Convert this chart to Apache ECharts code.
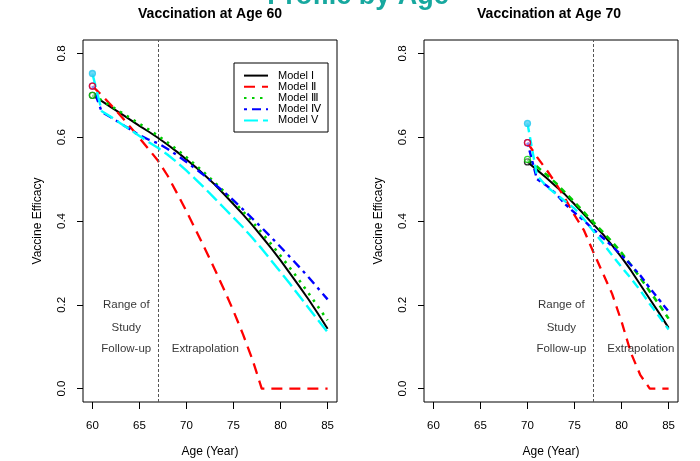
<!DOCTYPE html>
<html><head><meta charset="utf-8">
<script src="https://cdn.jsdelivr.net/npm/echarts@6/dist/echarts.min.js"></script>
<style>html,body{margin:0;padding:0;background:#fff}#c{width:700px;height:461px}</style>
</head><body><div id="c"></div>
<script>
// ---------- data ----------
const modelNames = ['Model I', 'Model Ⅱ', 'Model Ⅲ', 'Model Ⅳ', 'Model V'];
const xTicks = [60, 65, 70, 75, 80, 85];
const yTicks = [0, 0.2, 0.4, 0.6, 0.8];
const panelTitles = ['Vaccination at Age 60', 'Vaccination at Age 70'];
const followUpEnd = [67, 77];

const ages60 = [60,61,62,63,64,65,66,67,68,69,70,71,72,73,74,75,76,77,78,79,80,81,82,83,84,85];
const m1_60 = [0.700,0.686,0.671,0.657,0.642,0.627,0.613,0.598,0.582,0.565,0.547,0.528,0.508,0.487,0.464,0.440,0.416,0.390,0.363,0.335,0.306,0.275,0.244,0.212,0.178,0.143];
const m2_60 = [0.722,0.700,0.676,0.651,0.625,0.598,0.571,0.543,0.508,0.466,0.423,0.378,0.332,0.285,0.236,0.185,0.130,0.070,0,0,0,0,0,0,0,0];
const m3_60 = [0.700,0.688,0.674,0.660,0.646,0.632,0.618,0.603,0.587,0.570,0.552,0.533,0.513,0.492,0.470,0.447,0.423,0.398,0.372,0.345,0.317,0.288,0.258,0.227,0.195,0.163];
const m4_60 = [0.722,0.660,0.647,0.633,0.619,0.605,0.594,0.585,0.572,0.557,0.541,0.524,0.507,0.488,0.469,0.449,0.428,0.406,0.384,0.361,0.338,0.314,0.290,0.265,0.239,0.213];
const m5_60 = [0.752,0.662,0.648,0.633,0.618,0.603,0.588,0.574,0.558,0.540,0.520,0.499,0.477,0.454,0.431,0.408,0.385,0.360,0.334,0.306,0.278,0.250,0.221,0.192,0.163,0.135];

const ages70 = [70,71,72,73,74,75,76,77,78,79,80,81,82,83,84,85];
const m1_70 = [0.541,0.522,0.503,0.483,0.463,0.440,0.416,0.392,0.369,0.342,0.313,0.282,0.248,0.214,0.180,0.145];
const m2_70 = [0.587,0.553,0.523,0.490,0.454,0.414,0.378,0.326,0.276,0.226,0.160,0.085,0.032,0,0,0];
const m3_70 = [0.547,0.530,0.511,0.491,0.468,0.445,0.421,0.397,0.374,0.350,0.324,0.295,0.264,0.232,0.200,0.167];
const m4_70 = [0.587,0.500,0.485,0.466,0.440,0.420,0.401,0.380,0.360,0.340,0.318,0.295,0.270,0.240,0.212,0.184];
const m5_70 = [0.633,0.509,0.483,0.465,0.447,0.430,0.404,0.376,0.348,0.318,0.290,0.263,0.234,0.202,0.172,0.141];

const annot60 = [[63.6, 0.199, 'Range of'], [63.6, 0.146, 'Study'], [63.6, 0.096, 'Follow-up'], [72.0, 0.096, 'Extrapolation']];
const annot70 = [[73.6, 0.199, 'Range of'], [73.6, 0.146, 'Study'], [73.6, 0.096, 'Follow-up'], [82.05, 0.096, 'Extrapolation']];

// ---------- styles ----------
const FONT = "'Liberation Sans', Arial, Helvetica, sans-serif";
const colors = ['#000000', '#FF0000', '#00CD00', '#0000FF', '#00FFFF'];
const widths = [2, 2.3, 2.6, 2.4, 2.4];
const dashes = [
  ['solid', [11, 7], [2.5, 5.5], [3, 5, 9, 5], [14, 5]],
  ['solid', [10, 7], [6, 5], [4, 4, 7, 4], [9, 5]]
];
const circleOrder = [3, 0, 2, 1, 4];

const panels = [
  { ages: ages60, models: [m1_60, m2_60, m3_60, m4_60, m5_60], annot: annot60 },
  { ages: ages70, models: [m1_70, m2_70, m3_70, m4_70, m5_70], annot: annot70 }
];

const grids = [
  { left: 83, top: 40, width: 254, height: 362 },
  { left: 424, top: 40, width: 254, height: 362 }
].map(g => Object.assign(g, { show: true, borderColor: '#000', borderWidth: 1, backgroundColor: 'transparent', containLabel: false, outerBoundsMode: 'none' }));

function mkX(i) {
  return {
    type: 'value', gridIndex: i, min: 59, max: 86,
    name: 'Age (Year)', nameLocation: 'middle', nameGap: 44,
    nameTextStyle: { fontFamily: FONT, fontSize: 12, color: '#000' },
    axisLine: { show: false, onZero: false }, splitLine: { show: false },
    axisTick: { show: true, inside: false, length: 7, lineStyle: { color: '#000', width: 1 }, customValues: xTicks },
    axisLabel: { show: true, customValues: xTicks, margin: 18, fontFamily: FONT, fontSize: 11.5, color: '#000' }
  };
}
function mkY(i) {
  return {
    type: 'value', gridIndex: i, min: -0.032, max: 0.832,
    name: 'Vaccine Efficacy', nameLocation: 'middle', nameGap: 39, nameRotate: 90,
    nameTextStyle: { fontFamily: FONT, fontSize: 12, color: '#000' },
    axisLine: { show: false, onZero: false }, splitLine: { show: false },
    axisTick: { show: true, inside: false, length: 6, lineStyle: { color: '#000', width: 1 }, customValues: yTicks },
    axisLabel: { show: true, customValues: yTicks, rotate: 90, margin: 15, fontFamily: FONT, fontSize: 11.5, color: '#000',
      formatter: v => Number(v).toFixed(1) }
  };
}

const series = [];
panels.forEach((p, g) => {
  p.models.forEach((vals, k) => {
    const s = {
      type: 'line', name: modelNames[k], xAxisIndex: g, yAxisIndex: g,
      data: p.ages.map((a, i) => [a, vals[i]]),
      symbol: 'none', showSymbol: false, smooth: false, silent: true, z: 3 + k,
      lineStyle: { color: colors[k], width: widths[k], type: dashes[g][k], cap: 'butt', join: 'round' },
      itemStyle: { color: colors[k] },
      emphasis: { disabled: true }
    };
    if (k === 0) {
      s.markLine = {
        silent: true, symbol: ['none', 'none'], label: { show: false },
        lineStyle: { color: '#555', type: [3, 2], width: 1 },
        emphasis: { disabled: true },
        data: [{ xAxis: followUpEnd[g] }]
      };
    }
    series.push(s);
  });
  // start-point circles
  circleOrder.forEach((k, j) => {
    const vals = p.models[k];
    series.push({
      type: 'scatter', xAxisIndex: g, yAxisIndex: g, silent: true, z: 10 + j,
      data: [[p.ages[0], vals[0]]],
      symbol: 'circle', symbolSize: 6,
      itemStyle: { color: k === 4 ? '#4fd0f5' : 'rgba(255,255,255,0.4)', borderColor: k === 4 ? '#22c8f0' : colors[k], borderWidth: 1.3 },
      emphasis: { disabled: true }
    });
  });
  // annotation texts
  series.push({
    type: 'scatter', xAxisIndex: g, yAxisIndex: g, silent: true, z: 20,
    data: p.annot, symbol: 'circle', symbolSize: 1,
    itemStyle: { color: 'rgba(0,0,0,0)' },
    label: { show: true, position: 'inside', formatter: q => q.data[2], fontFamily: FONT, fontSize: 11.5, color: '#000' },
    emphasis: { disabled: true }
  });
});

const chart = echarts.init(document.getElementById('c'), null, { renderer: 'canvas' });
chart.setOption({
  animation: false,
  backgroundColor: '#fff',
  grid: grids,
  xAxis: [mkX(0), mkX(1)],
  yAxis: [mkY(0), mkY(1)],
  legend: {
    show: true, data: modelNames, orient: 'vertical', left: 234, top: 63,
    itemWidth: 24, itemHeight: 14, itemGap: 0, padding: [7, 7, 6, 9],
    borderColor: '#000', borderWidth: 1, borderRadius: 0, backgroundColor: '#fff',
    selectedMode: false,
    itemStyle: { opacity: 0 },
    textStyle: { fontFamily: FONT, fontSize: 11, color: '#000', padding: [0, 0, 0, 5] }
  },
  graphic: [
    { type: 'text', x: 358, y: -3, silent: true,
      style: { text: 'Profile by Age', font: 'bold 27px ' + FONT, fill: '#17A89F', align: 'center', verticalAlign: 'middle' } },
    { type: 'text', x: 210, y: 14, silent: true,
      style: { text: panelTitles[0], font: 'bold 14px ' + FONT, fill: '#000', align: 'center', verticalAlign: 'middle' } },
    { type: 'text', x: 549, y: 14, silent: true,
      style: { text: panelTitles[1], font: 'bold 14px ' + FONT, fill: '#000', align: 'center', verticalAlign: 'middle' } }
  ],
  series: series
});
</script>
</body></html>
